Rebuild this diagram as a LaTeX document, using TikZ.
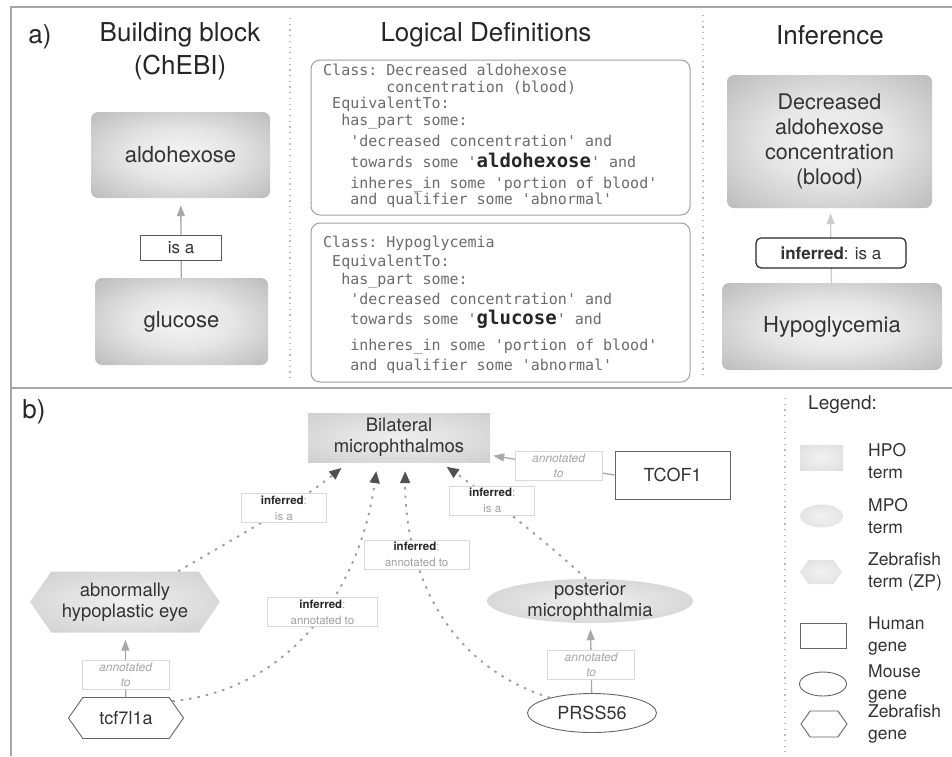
\documentclass[tikz,border=0pt]{standalone}
\usepackage{fontspec}
\setmainfont{TeX Gyre Heros}
\setmonofont{DejaVu Sans Mono}
\usetikzlibrary{arrows.meta,shapes.geometric,shapes.symbols,positioning}
\tikzset{>=latex}

\definecolor{nodetext}{HTML}{333333}
\definecolor{deftext}{HTML}{6B6B6B}
\definecolor{linkgray}{HTML}{A8A8A8}
\definecolor{tipgray}{HTML}{505050}

\newcommand{\fsz}[2]{\fontsize{#1}{#2}\selectfont}
\newcommand{\msp}[1]{\hspace*{#1\fontcharwd\font`x}}
\newcommand{\keyterm}[1]{{\fsz{19}{16}\bfseries\color{black!85}#1}}

% shadings for the filled terms
\pgfdeclareradialshading{termglow}{\pgfpoint{0bp}{0bp}}{color(0bp)=(white!96!black); color(15bp)=(white!90!black); color(50bp)=(white!62!black)}
\pgfdeclareradialshading{hpoglow}{\pgfpoint{0bp}{0bp}}{color(0bp)=(white!94!black); color(50bp)=(white!76!black)}
\pgfdeclareradialshading{keyglow}{\pgfpoint{0bp}{0bp}}{color(0bp)=(white!95!black); color(50bp)=(white!84!black)}

\begin{document}
\begin{tikzpicture}[x=1pt,y=-1pt]
        \useasboundingbox (0,0) rectangle (952,756);

        % Setup the styles for terms, genes and labels
        \tikzset{title style/.style={font=\fsz{26}{33}, text=black!85, align=center},
                 block style/.style={rectangle, rounded corners=7pt, shade, shading=termglow,
                                     inner sep=0pt, text=nodetext, font=\fsz{22}{25}, align=center},
                 def box/.style={rectangle, rounded corners=9pt, draw=gray!75, line width=1pt, inner sep=0pt},
                 def text/.style={anchor=north west, inner sep=0pt, align=left, text=deftext,
                                  font=\ttfamily\fsz{15}{16.5}},
                 isa box/.style={solid, draw=black!65, line width=0.8pt, fill=white, minimum width=81,
                                 minimum height=25, inner sep=0pt, text=nodetext, font=\fsz{17}{20}},
                 inferred box/.style={isa box, rounded corners=5pt, draw=black!85, line width=1.2pt,
                                      minimum width=150, minimum height=30},
                 is a link/.style={draw=linkgray, line width=1.3pt, -{Triangle[length=11pt,width=8pt]}},
                 term style/.style={shade, shading=hpoglow, inner sep=0pt, text=nodetext,
                                    font=\fsz{18.5}{21}, align=center},
                 hex term/.style={term style, signal, signal to=west and east, signal pointer angle=110,
                                  inner ysep=-4pt},
                 oval term/.style={term style, ellipse, inner ysep=-6pt},
                 gene style/.style={draw=black!60, line width=0.9pt, fill=white, inner sep=0pt,
                                    text=nodetext, font=\fsz{18}{20}},
                 hex gene/.style={gene style, signal, signal to=west and east, signal pointer angle=110},
                 oval gene/.style={gene style, ellipse},
                 annot link/.style={draw=linkgray, line width=1.3pt, -{Triangle[length=11pt,width=8pt]}},
                 annot box/.style={solid, draw=gray!30, line width=0.6pt, fill=white, minimum width=87,
                                   minimum height=29, inner sep=1pt, text=gray!70, align=center,
                                   font=\itshape\fsz{12}{15}},
                 infer link/.style={draw=gray!75, line width=1.9pt, dash pattern=on 2.5pt off 6pt,
                                    -{Triangle[length=12pt,width=10pt,color=tipgray]}},
                 infer box/.style={annot box, minimum width=85, text=gray!75, font=\fsz{11.5}{16}},
                 legend text/.style={anchor=west, align=left, inner sep=0pt, text=nodetext,
                                     font=\fsz{17.5}{22}},
                 sep line/.style={draw=gray!55, line width=1.2pt, dash pattern=on 1.2pt off 4.5pt},
                 frame line/.style={draw=gray!70, line width=1.5pt}}

        % Frame and separators
        \draw[frame line] (11,756) -- (11,7) -- (952,7);
        \draw[frame line] (11,388) -- (952,388);
        \draw[sep line] (290,18) -- (290,378);
        \draw[sep line] (703,15) -- (703,378);
        \draw[sep line] (785,398) -- (785,752);

        % a) building block, definitions and inference
        \node[title style] at (40,37) (lbla) {a)};
        \node[title style] at (180,51) (ttlchebi) {Building block\\(ChEBI)};
        \node[title style] at (486,35) (ttldef) {Logical Definitions};
        \node[title style] at (830,35) (ttlinf) {Inference};

        \node[block style, minimum width=179, minimum height=86] at (180.5,155) (ald) {aldohexose};
        \node[block style, minimum width=173, minimum height=87] at (181.5,321.5) (glu) {glucose};

        \draw[is a link, shorten >=7pt]
            (glu) -- node[isa box, pos=0.38] {is a} (ald);

        \node[def box, minimum width=379, minimum height=155] at (500.5,137.5) (defald) {};
        \node[def box, minimum width=379, minimum height=159] at (500.5,302.5) (defhypo) {};

        \node[def text] at (323,64) (txtald) {Class: Decreased aldohexose\\
            \msp{7}concentration (blood)\\
            \msp{1}EquivalentTo:\\
            \msp{2}has\_part some:\\[4.5pt]
            \msp{3}'decreased concentration' and\\[4.5pt]
            \msp{3}towards some '\keyterm{aldohexose}' and\\[4.5pt]
            \msp{3}inheres\_in some 'portion of blood'\\
            \msp{3}and qualifier some 'abnormal'};
        \node[def text, font=\ttfamily\fsz{15}{18.5}] at (323,236) (txthypo) {Class: Hypoglycemia\\
            \msp{1}EquivalentTo:\\
            \msp{2}has\_part some:\\[1.5pt]
            \msp{3}'decreased concentration' and\\[1.5pt]
            \msp{3}towards some '\keyterm{glucose}' and\\[7pt]
            \msp{3}inheres\_in some 'portion of blood'\\[1.5pt]
            \msp{3}and qualifier some 'abnormal'};

        \node[block style, minimum width=205, minimum height=133, font=\fsz{21.5}{25}]
            at (829.5,141.5) (decr) {Decreased\\aldohexose\\concentration\\(blood)};
        \node[block style, minimum width=220, minimum height=87] at (832,326.5) (hypo) {Hypoglycemia};

        \draw[is a link, draw=gray!40, shorten >=5pt]
            (hypo) -- node[inferred box, pos=0.4] {\textbf{inferred}: is a} (decr);

        % b) phenotype terms and genes
        \node[title style] at (34,412) (lblb) {b)};

        \node[term style, rectangle, minimum width=182, minimum height=49] at (399,437.5) (bil)
            {Bilateral\\microphthalmos};
        \node[gene style, rectangle, minimum width=115, minimum height=48] at (672.5,475) (tcof) {TCOF1};
        \node[hex term, minimum width=190, minimum height=61] at (125,602) (abn)
            {abnormally\\hypoplastic eye};
        \node[hex gene, minimum width=115, minimum height=41] at (126,718) (tcf) {tcf7l1a};
        \node[oval term, minimum width=206, minimum height=44] at (590,601) (post)
            {posterior\\microphthalmia};
        \node[oval gene, minimum width=129, minimum height=39] at (592,713) (prss) {PRSS56};

        % direct annotations
        \draw[annot link, shorten >=3pt]
            (tcof.west) -- node[annot box, pos=0.45] {annotated\\to} (bil.-11);
        \draw[annot link, shorten >=7pt]
            (tcf) -- node[annot box, pos=0.35] {annotated\\to} (abn);
        \draw[annot link, shorten >=6pt]
            (prss) -- node[annot box, pos=0.4] {annotated\\to} (post);

        % inferred links
        \draw[infer link, shorten >=9pt] (abn.30) .. controls (235,538) and (300,502) ..
            node[infer box, pos=0.6] {\textbf{\color{black!85}inferred}:\\is a} (bil.206);
        \draw[infer link, shorten >=9pt] (tcf.20) .. controls (290,690) and (360,590) ..
            node[infer box, pos=0.55, minimum width=110] {\textbf{\color{black!85}inferred}:\\annotated to} (bil.229);
        \draw[infer link, shorten >=9pt] (prss.160) .. controls (445,665) and (405,570) ..
            node[infer box, pos=0.7, minimum width=105] {\textbf{\color{black!85}inferred}:\\annotated to} (bil.284);
        \draw[infer link, shorten >=8pt] (post.100) .. controls (545,540) and (480,490) ..
            node[infer box, pos=0.63] {\textbf{\color{black!85}inferred}:\\is a} (bil.329);

        % Legend
        \node[legend text, font=\fsz{19}{22}] at (808,405) (lgttl) {Legend:};
        \node[term style, rectangle, shading=keyglow, minimum width=43, minimum height=25] at (821.5,457.5) (keyhpo) {};
        \node[oval term, shading=keyglow, minimum width=43, minimum height=23] at (821.5,516) (keympo) {};
        \node[hex term, shading=keyglow, minimum width=42, minimum height=24] at (821,572) (keyzp) {};
        \node[gene style, rectangle, minimum width=46, minimum height=25] at (823,635.5) (keyhuman) {};
        \node[oval gene, minimum width=47, minimum height=24] at (823,684) (keymouse) {};
        \node[hex gene, minimum width=46, minimum height=26] at (824,724) (keyfish) {};

        \node[legend text] at (868,461) (txthpo) {HPO\\term};
        \node[legend text] at (868,516) (txtmpo) {MPO\\term};
        \node[legend text] at (868,572) (txtzp) {Zebrafish\\term (ZP)};
        \node[legend text] at (868,636) (txthuman) {Human\\gene};
        \node[legend text] at (868,684) (txtmouse) {Mouse\\gene};
        \node[legend text] at (868,724) (txtfish) {Zebrafish\\gene};
\end{tikzpicture}
\end{document}
